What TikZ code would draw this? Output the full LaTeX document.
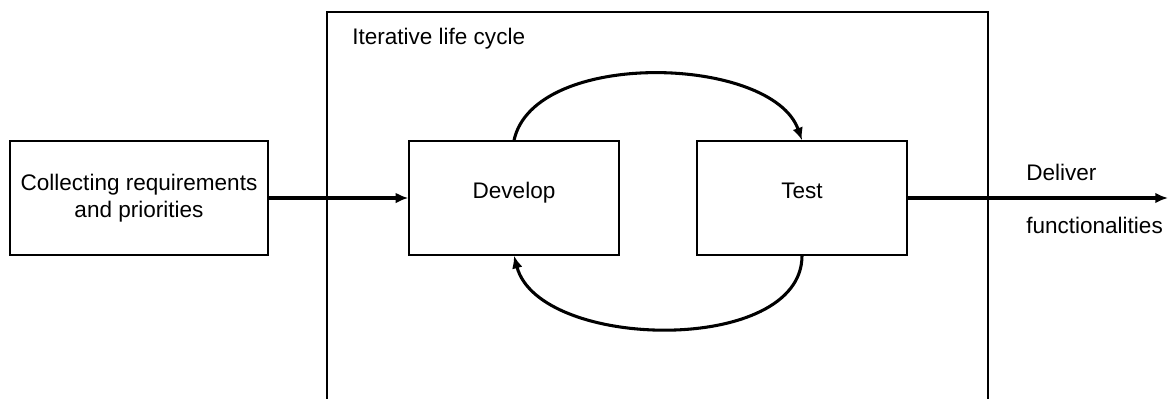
\documentclass[tikz,border=0pt]{standalone}
\usepackage{fontspec}
\setmainfont{Liberation Sans}
\usetikzlibrary{arrows.meta}

\begin{document}
\begin{tikzpicture}[x=0.75pt, y=-0.75pt, font=\fontsize{16.9}{20.3}\selectfont]

	\def\midY{198}

	\tikzset{
		phase/.style={draw, line width=1pt, minimum height=85.5pt, align=center,
			text height=10pt, text depth=10pt},
		flow/.style={line width=2.3pt, -{Latex[length=9.5pt, width=8pt]}},
		tag/.style={anchor=base west, inner sep=0pt}
	}

	% margini della pagina
	\useasboundingbox (0,0) rectangle (1169,399);

	% --- BOX DEL CICLO ITERATIVO (aperto in basso) ---
	\draw[line width=1pt] (327,399) -- (327,12) -- (988,12) -- (988,399);
	\node[tag] (title) at (352,45) {Iterative life cycle};

	% --- FASI ---
	\node[phase, minimum width=193.5pt, text height=, text depth=] (req) at (139,\midY)
		{Collecting requirements\\and priorities};
	\node[phase, minimum width=157.5pt] (dev) at (514,\midY) {Develop};
	\node[phase, minimum width=157.5pt] (test) at (802,\midY) {Test};

	% --- FRECCE ---
	\draw[flow] (req) -- (dev);
	\draw[flow] (dev.north) .. controls +(20,-92) and +(-30,-85) .. (test.north);
	\draw[flow] (test.south) .. controls +(0,100) and +(25,95) .. (dev.south);

	\coordinate (out) at (1168,\midY);
	\draw[flow] (test) -- (out);

	% --- USCITA ---
	\node[tag] (deliver) at (1026,180) {Deliver};
	\node[tag] (func) at (1026,233) {functionalities};

\end{tikzpicture}
\end{document}
